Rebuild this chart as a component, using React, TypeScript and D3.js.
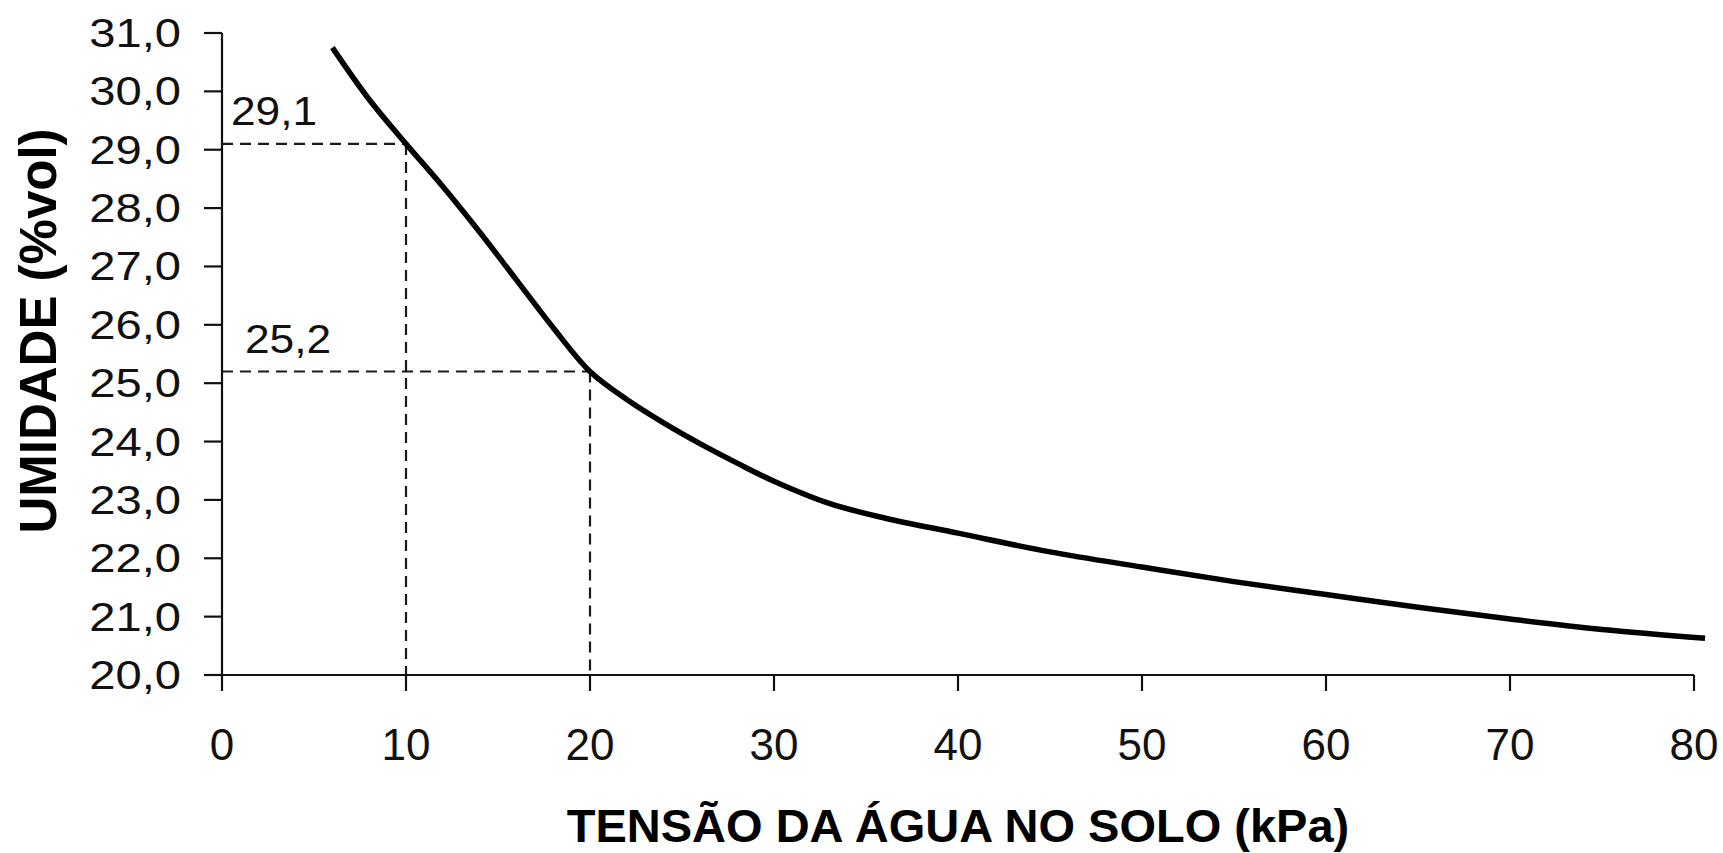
import React from "react";
import * as d3 from "d3";

// Soil water retention curve: tension (kPa) vs volumetric moisture (%vol)
const tension = [6, 8, 10, 12, 14, 16, 18, 20, 22, 24, 26, 28, 30, 33, 36, 40, 45, 50, 55, 60, 65, 70, 75, 80.6];
const moisture = [30.75, 29.86, 29.1, 28.37, 27.59, 26.77, 25.95, 25.2, 24.72, 24.32, 23.96, 23.63, 23.32, 22.94, 22.69, 22.43, 22.11, 21.85, 21.6, 21.38, 21.16, 20.96, 20.78, 20.63];

const xTicks = [0, 10, 20, 30, 40, 50, 60, 70, 80];
const yTicks = [20, 21, 22, 23, 24, 25, 26, 27, 28, 29, 30, 31];

// Reference readings marked with dashed guides
const markTension = [10, 20];
const markMoisture = [29.1, 25.2];

const xTitle = "TENSÃO DA ÁGUA NO SOLO (kPa)";
const yTitle = "UMIDADE (%vol)";

const W = 1723;
const H = 853;
const FONT = "'Liberation Sans', Arial, sans-serif";

const fmt = (v: number) => v.toFixed(1).replace(".", ",");

export default function App() {
  const x = d3.scaleLinear().domain([0, 80]).range([222, 1694]);
  const y = d3.scaleLinear().domain([20, 31]).range([675, 33]);

  const line = d3
    .line<number>()
    .x((_, i) => x(tension[i]))
    .y((d) => y(d))
    .curve(d3.curveCatmullRom.alpha(0.5));

  return (
    <svg
      width={W}
      height={H}
      style={{ position: "absolute", left: 0, top: 0, background: "#fff" }}
      fontFamily={FONT}
    >
      {/* dashed guide lines */}
      {markTension.map((t, i) => (
        <g key={"g" + i} stroke="#1a1a1a" strokeWidth={2.2} strokeDasharray="11 7" fill="none">
          <line x1={x(0)} x2={x(t)} y1={y(markMoisture[i])} y2={y(markMoisture[i])} />
          <line x1={x(t)} x2={x(t)} y1={y(markMoisture[i])} y2={y(20)} />
        </g>
      ))}

      {/* axes */}
      <g stroke="#111" strokeWidth={2.2}>
        <line x1={x(0)} x2={x(0)} y1={y(31)} y2={y(20)} />
        <line x1={x(0)} x2={x(80)} y1={y(20)} y2={y(20)} />
        {yTicks.map((v) => (
          <line key={"yt" + v} x1={x(0) - 18} x2={x(0)} y1={y(v)} y2={y(v)} />
        ))}
        {xTicks.map((v) => (
          <line key={"xt" + v} x1={x(v)} x2={x(v)} y1={y(20)} y2={y(20) + 16} />
        ))}
      </g>

      {/* y tick labels */}
      {yTicks.map((v) => (
        <text
          key={"yl" + v}
          transform={`translate(${x(0) - 41},${y(v) + 14}) scale(1.15,1)`}
          textAnchor="end"
          fontSize={41}
          fill="#111"
        >
          {fmt(v)}
        </text>
      ))}

      {/* x tick labels */}
      {xTicks.map((v) => (
        <text
          key={"xl" + v}
          x={x(v)}
          y={760}
          textAnchor="middle"
          fontSize={44}
          fill="#111"
        >
          {v}
        </text>
      ))}

      {/* value annotations */}
      {markMoisture.map((m, i) => (
        <text
          key={"an" + i}
          transform={`translate(${i === 0 ? 231 : 245},${y(m) - 19}) scale(1.08,1)`}
          fontSize={41}
          fill="#111"
        >
          {fmt(m)}
        </text>
      ))}

      {/* curve */}
      <path d={line(moisture) ?? ""} fill="none" stroke="#000" strokeWidth={5.5} strokeLinecap="butt" />

      {/* axis titles */}
      <text x={958} y={842} textAnchor="middle" fontSize={47} fontWeight="bold" fill="#000">
        {xTitle}
      </text>
      <text
        transform={`translate(56,331) rotate(-90)`}
        textAnchor="middle"
        fontSize={51}
        fontWeight="bold"
        fill="#000"
      >
        {yTitle}
      </text>
    </svg>
  );
}
